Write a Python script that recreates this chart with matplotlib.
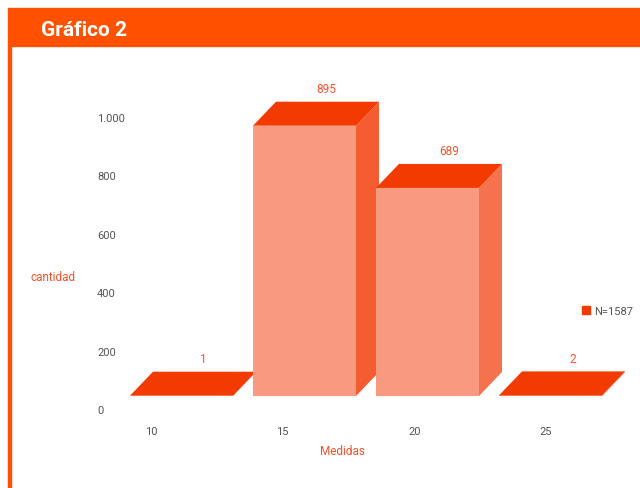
import matplotlib
matplotlib.use("Agg")
import matplotlib.pyplot as plt
from matplotlib.patches import Polygon, Rectangle, Patch

# Datos
medidas = ["10", "15", "20", "25"]
cantidad = [1, 895, 689, 2]
yticks = [0, 200, 400, 600, 800, 1000]
ytick_labels = ["0", "200", "400", "600", "800", "1.000"]
leyenda = "N=1587"
titulo = "Gráfico 2"

W, H = 640, 489
naranja = "#FF5100"
frente = "#F89A80"
tapa = "#F33A00"
lados = ["#F33A00", "#F55C32", "#F6724E", "#F33A00"]
gris = "#555555"
rojo_txt = "#F4522A"

plt.rcParams["font.family"] = ["Liberation Sans Narrow", "Roboto", "DejaVu Sans"]

fig = plt.figure(figsize=(W / 100, H / 100), dpi=100)


def px_rect(l, t, r, b):
    return [l / W, 1 - b / H, (r - l) / W, (b - t) / H]


# cabecera
fig.patches.append(Rectangle((8 / W, 1 - 47 / H), 1 - 8 / W, 38 / H,
                             transform=fig.transFigure, color=naranja, zorder=0))
fig.patches.append(Rectangle((8 / W, 0), 3 / W, 1 - 47 / H,
                             transform=fig.transFigure, color=naranja, zorder=0))
fig.text(41 / W, 1 - 30 / H, titulo, color="white", fontsize=15, fontweight="bold",
         ha="left", va="center")

# ejes de las barras (escala del frente)
esc_y = 0.302     # px por unidad
paso_x = 123.0    # px por categoria
x0_px = 181.5
l, r, t, b = 120, 630, 60, 397
ax = fig.add_axes(px_rect(l, t, r, b))
ax.set_xlim((l - x0_px) / paso_x, (r - x0_px) / paso_x)
ax.set_ylim(0, (b - t) / esc_y)
ax.axis("off")

hw = 51.5 / paso_x
dx = 23 / paso_x
dy = 24 / esc_y
for i, v in enumerate(cantidad):
    lado = Polygon([(i + hw, 0), (i + hw + dx, dy), (i + hw + dx, v + dy), (i + hw, v)],
                   closed=True, color=lados[i], lw=0)
    cara = Rectangle((i - hw, 0), 2 * hw, v, color=frente, lw=0)
    top = Polygon([(i - hw, v), (i + hw, v), (i + hw + dx, v + dy), (i - hw + dx, v + dy)],
                  closed=True, color=tapa, lw=0)
    for p in (lado, cara, top):
        ax.add_patch(p)
    ax.text(i + dx * 0.95, v + dy + 13 / esc_y, f"{v}", color=rojo_txt, fontsize=8.5,
            ha="center", va="center")

# ejes de las marcas
tl, tt, tr, tb = 120, 118, 630, 410
ax2 = fig.add_axes(px_rect(tl, tt, tr, tb))
ax2.patch.set_alpha(0)
paso_t = 131.7
x0_t = 151
ax2.set_xlim((tl - x0_t) / paso_t, (tr - x0_t) / paso_t)
ax2.set_ylim(0, 1000)
ax2.set_xticks(range(len(medidas)))
ax2.set_xticklabels(medidas)
ax2.set_yticks(yticks)
ax2.set_yticklabels(ytick_labels)
for s in ax2.spines.values():
    s.set_visible(False)
ax2.tick_params(axis="both", length=0, colors=gris, labelsize=8)
ax2.tick_params(axis="y", pad=16.5)
ax2.tick_params(axis="x", pad=12)
for lab in ax2.get_yticklabels():
    lab.set_horizontalalignment("left")

fig.text(53 / W, 1 - 278 / H, "cantidad", color=rojo_txt, fontsize=8.5, ha="center", va="center")
fig.text(342 / W, 1 - 452 / H, "Medidas", color=rojo_txt, fontsize=8.5, ha="center", va="center")

fig.legend(handles=[Patch(color=tapa, label=leyenda)], loc="center left",
           bbox_to_anchor=(572 / W, 1 - 312 / H), frameon=False, fontsize=8,
           handlelength=0.7, handleheight=0.7, handletextpad=0.4, labelcolor=gris)

fig.savefig("out.png", dpi=100)
